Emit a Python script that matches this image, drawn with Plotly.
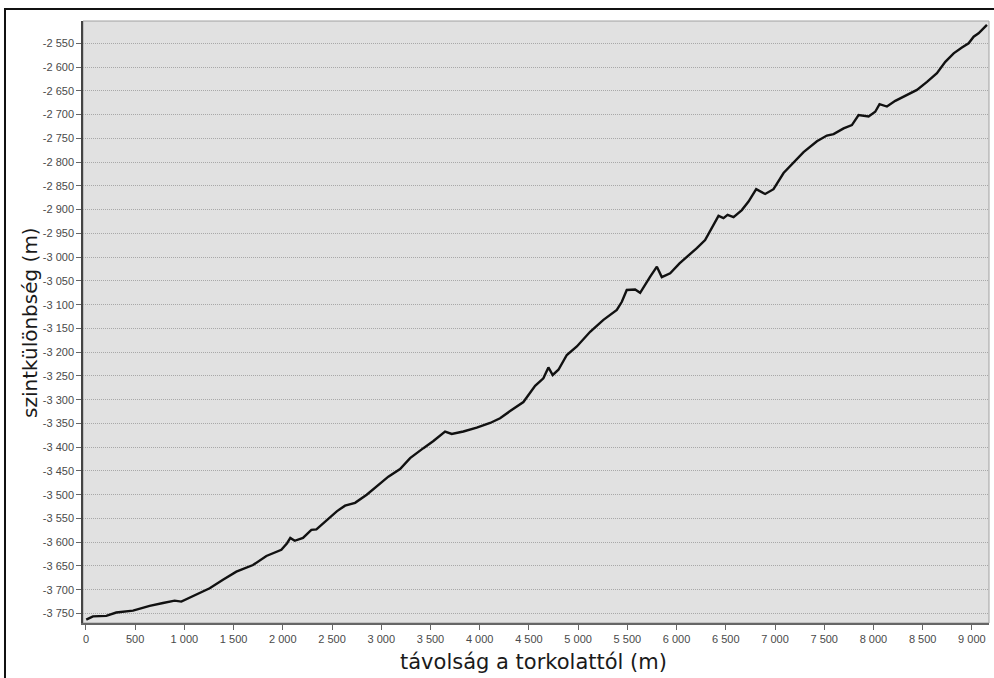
import plotly.graph_objects as go

# distance from mouth (m)
distance = [3, 71, 206, 308, 478, 647, 783, 901, 969, 1121, 1257, 1392, 1528, 1697, 1833,
            1985, 2043, 2076, 2121, 2205, 2290, 2341, 2429, 2548, 2632, 2734, 2852, 2988,
            3072, 3191, 3293, 3428, 3530, 3648, 3716, 3834, 3970, 4106, 4207, 4309, 4444,
            4563, 4647, 4698, 4742, 4800, 4885, 4987, 5122, 5257, 5393, 5444, 5494, 5579,
            5630, 5732, 5800, 5850, 5935, 6030, 6070, 6206, 6290, 6358, 6426, 6477, 6518,
            6579, 6663, 6731, 6809, 6900, 6985, 7087, 7188, 7290, 7426, 7527, 7595, 7697,
            7781, 7849, 7951, 8018, 8062, 8137, 8222, 8341, 8442, 8544, 8645, 8730, 8815,
            8899, 8967, 9018, 9068, 9153]
# elevation difference (m)
elevation = [-3763, -3756, -3755, -3748, -3744, -3734, -3728, -3723, -3725, -3711, -3697,
             -3679, -3662, -3648, -3629, -3616, -3602, -3591, -3597, -3591, -3574, -3573,
             -3556, -3535, -3523, -3517, -3500, -3477, -3462, -3446, -3423, -3402, -3387,
             -3367, -3372, -3367, -3359, -3349, -3339, -3324, -3305, -3271, -3255, -3232,
             -3248, -3237, -3206, -3188, -3157, -3132, -3111, -3094, -3069, -3068, -3075,
             -3041, -3020, -3042, -3034, -3013, -3006, -2981, -2964, -2939, -2913, -2918,
             -2911, -2916, -2901, -2883, -2857, -2867, -2857, -2823, -2802, -2779, -2756,
             -2744, -2741, -2729, -2722, -2701, -2704, -2694, -2678, -2683, -2671, -2659,
             -2648, -2631, -2613, -2589, -2571, -2559, -2550, -2536, -2529, -2511]

x_tickvals = list(range(0, 9001, 500))
x_ticktext = ["0", "500", "1 000", "1 500", "2 000", "2 500", "3 000", "3 500", "4 000",
              "4 500", "5 000", "5 500", "6 000", "6 500", "7 000", "7 500", "8 000",
              "8 500", "9 000"]
y_tickvals = list(range(-3750, -2549, 50))
y_ticktext = ["-" + f"{abs(v):,}".replace(",", " ") for v in y_tickvals]

x_title = "távolság a torkolattól (m)"
y_title = "szintkülönbség (m)"

fig = go.Figure()
fig.add_trace(go.Scatter(x=distance, y=elevation, mode="lines",
                         line=dict(color="#111111", width=2.4), showlegend=False))

tickfont = dict(family="Liberation Sans, Arial, sans-serif", size=11, color="#4a4a4a")

fig.update_layout(
    width=994, height=678,
    margin=dict(l=83, r=5, t=21, b=55),
    paper_bgcolor="white",
    plot_bgcolor="#e1e1e1",
    xaxis=dict(range=[-30, 9174], tickvals=x_tickvals, ticktext=x_ticktext,
               showgrid=False, zeroline=False, ticks="outside", ticklen=5,
               tickcolor="#666666", tickfont=tickfont,
               showline=True, linecolor="#666666", linewidth=1.5),
    yaxis=dict(range=[-3770, -2503], tickvals=y_tickvals, ticktext=y_ticktext,
               showgrid=True, gridcolor="#a8a8a8", griddash="1px,1px", gridwidth=1,
               zeroline=False, ticks="outside", ticklen=5, tickcolor="#666666",
               tickfont=tickfont, showline=True, linecolor="#444444", linewidth=1.5),
    shapes=[
        dict(type="rect", xref="paper", yref="paper", x0=0, x1=1, y0=0, y1=1,
             line=dict(color="#a0a0a0", width=1), layer="below"),
        dict(type="rect", xref="paper", yref="paper", x0=-0.0861, x1=1.2,
             y0=-0.3, y1=1.0199, line=dict(color="#111111", width=2)),
    ],
    annotations=[
        dict(text=x_title, xref="paper", yref="paper", x=0.497, y=-0.0643,
             showarrow=False, xanchor="center", yanchor="middle",
             font=dict(family="DejaVu Sans, sans-serif", size=21, color="#1a1a1a")),
        dict(text=y_title, xref="paper", yref="paper", x=-0.0585, y=0.5,
             showarrow=False, xanchor="center", yanchor="middle", textangle=-90,
             font=dict(family="DejaVu Sans, sans-serif", size=20, color="#1a1a1a")),
    ],
)

fig.write_html("out.html", config={"displayModeBar": False},
               post_script="document.body.style.margin='0';document.body.style.overflow='hidden';")
